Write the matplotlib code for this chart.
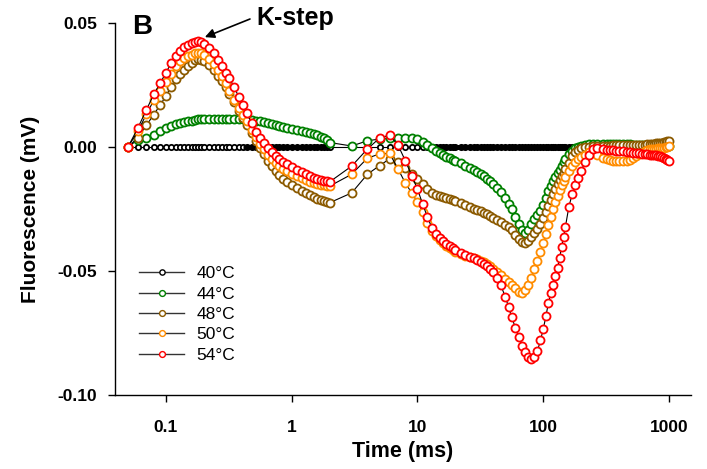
import matplotlib.pyplot as plt
from matplotlib.lines import Line2D
from matplotlib.ticker import NullLocator

plt.rcParams['font.family'] = ['Liberation Sans', 'DejaVu Sans']

# time axis (ms)
time_ms = [0.05, 0.06, 0.07, 0.08, 0.09, 0.10, 0.11, 0.12, 0.13, 0.14, 0.15, 0.16, 0.17, 0.18, 0.19, 0.20,
           0.22, 0.24, 0.26, 0.28, 0.30, 0.32, 0.35, 0.38, 0.41, 0.44, 0.48, 0.52, 0.56, 0.60, 0.65, 0.70,
           0.75, 0.80, 0.86, 0.92, 1.0, 1.1, 1.2, 1.3, 1.4, 1.5, 1.6, 1.7, 1.8, 1.9, 2.0,
           3, 4, 5, 6, 7, 8, 9, 10,
           11, 12, 13, 14, 15, 16, 17, 18, 19, 20, 22, 24, 26, 28, 30,
           32, 34, 36, 38, 40, 43, 46, 50, 53, 56, 60, 64, 68, 72, 76, 80, 85, 90, 95, 100,
           105, 110, 115, 120, 125, 130, 135, 140, 145, 150, 160, 170, 180, 190, 200, 215, 230, 250, 270, 300,
           320, 340, 360, 380, 400, 430, 460, 490, 520, 550, 580, 610, 640, 670, 700, 730, 760, 790, 820,
           850, 880, 910, 940, 970, 1000]

f40 = [0.0, 0.0, 0.0, 0.0, 0.0, 0.0, 0.0, 0.0, 0.0, 0.0, 0.0, 0.0, 0.0, 0.0, 0.0, 0.0,
       0.0, 0.0, 0.0, 0.0, 0.0, 0.0, 0.0, 0.0, 0.0, 0.0, 0.0, 0.0, 0.0, 0.0, 0.0, 0.0,
       0.0, 0.0, 0.0, 0.0, 0.0, 0.0, 0.0, 0.0, 0.0, 0.0, 0.0, 0.0, 0.0, 0.0, 0.0,
       0.0, 0.0, 0.0, 0.0, 0.0, 0.0, 0.0, 0.0,
       0.0, 0.0, 0.0, 0.0, 0.0, 0.0, 0.0, 0.0, 0.0, 0.0, 0.0, 0.0, 0.0, 0.0, 0.0,
       0.0, 0.0, 0.0, 0.0, 0.0, 0.0, 0.0, 0.0, 0.0, 0.0, 0.0, 0.0, 0.0, 0.0, 0.0, 0.0, 0.0, 0.0, 0.0, 0.0,
       0.0, 0.0, 0.0, 0.0, 0.0, 0.0, 0.0, 0.0, 0.0, 0.0, 0.0, 0.0, 0.0, 0.0, 0.0, 0.0, 0.0, 0.0, 0.0, 0.0,
       0.0, 0.0, 0.0, 0.0, 0.0, 0.0, 0.0, 0.0, 0.0, 0.0, 0.0, 0.0, 0.0, 0.0, 0.0, 0.0, 0.0, 0.0, 0.0,
       0.0, 0.0, 0.0, 0.0, 0.0, 0.0]

f44 = [0.0, 0.0030, 0.0036, 0.0050, 0.0064, 0.0076, 0.0085, 0.0092, 0.0097, 0.0100, 0.0103, 0.0106, 0.0109, 0.0111, 0.0112, 0.0113,
       0.0113, 0.0113, 0.0112, 0.0112, 0.0112, 0.0113, 0.0114, 0.0114, 0.0113, 0.0112, 0.0110, 0.0106, 0.0103, 0.0100, 0.0096, 0.0092,
       0.0088, 0.0085, 0.0081, 0.0078, 0.0074, 0.0070, 0.0066, 0.0061, 0.0056, 0.0052, 0.0047, 0.0042, 0.0036, 0.0028, 0.0018,
       0.0004, 0.0025, 0.0032, 0.0035, 0.0036, 0.0036, 0.0036, 0.0032,
       0.0020, 0.0006, -0.0005, -0.0015, -0.0024, -0.0032, -0.0039, -0.0045, -0.0051, -0.0057, -0.0066, -0.0075, -0.0084, -0.0093, -0.0102,
       -0.0110, -0.0119, -0.0128, -0.0138, -0.0148, -0.0164, -0.0182, -0.0207, -0.0229, -0.0252, -0.0281, -0.0311, -0.0336, -0.0347, -0.0333, -0.0312, -0.0292, -0.0274, -0.0258, -0.0232,
       -0.0204, -0.0178, -0.0157, -0.0139, -0.0122, -0.0106, -0.0091, -0.0076, -0.0061, -0.0047, -0.0028, -0.0015, -0.0006, 0.0, 0.0005, 0.0009, 0.0011, 0.0012, 0.0012, 0.0012,
       0.0012, 0.0012, 0.0012, 0.0012, 0.0011, 0.0011, 0.0011, 0.0011, 0.0010, 0.0010, 0.0010, 0.0010, 0.0009, 0.0009, 0.0009, 0.0008, 0.0008, 0.0008, 0.0007,
       0.0007, 0.0006, 0.0006, 0.0005, 0.0005, 0.0004]

f48 = [0.0, 0.0038, 0.0088, 0.0130, 0.0170, 0.0205, 0.0243, 0.0273, 0.0295, 0.0312, 0.0327, 0.0340, 0.0349, 0.0355, 0.0352, 0.0345,
       0.0330, 0.0310, 0.0288, 0.0265, 0.0240, 0.0215, 0.0180, 0.0146, 0.0116, 0.0088, 0.0055, 0.0025, -0.0003, -0.0028, -0.0055, -0.0078,
       -0.0097, -0.0113, -0.0128, -0.0140, -0.0152, -0.0165, -0.0176, -0.0186, -0.0195, -0.0202, -0.0208, -0.0213, -0.0218, -0.0222, -0.0225,
       -0.0185, -0.0110, -0.0075, -0.0048, -0.0062, -0.0085, -0.0108, -0.0130,
       -0.0150, -0.0170, -0.0184, -0.0192, -0.0197, -0.0200, -0.0204, -0.0209, -0.0214, -0.0219, -0.0227, -0.0235, -0.0242, -0.0249, -0.0255,
       -0.0260, -0.0266, -0.0272, -0.0278, -0.0285, -0.0294, -0.0302, -0.0314, -0.0324, -0.0336, -0.0353, -0.0370, -0.0384, -0.0388, -0.0379, -0.0364, -0.0347, -0.0330, -0.0310, -0.0287,
       -0.0262, -0.0237, -0.0212, -0.0190, -0.0170, -0.0151, -0.0134, -0.0118, -0.0103, -0.0090, -0.0064, -0.0038, -0.0022, -0.0012, -0.0006, -0.0002, 0.0, 0.0003, 0.0004, 0.0005,
       0.0005, 0.0005, 0.0006, 0.0006, 0.0006, 0.0007, 0.0007, 0.0008, 0.0008, 0.0009, 0.0009, 0.0010, 0.0010, 0.0011, 0.0012, 0.0013, 0.0014, 0.0015, 0.0016,
       0.0017, 0.0018, 0.0020, 0.0022, 0.0024, 0.0026]

f50 = [0.0, 0.0065, 0.0132, 0.0188, 0.0226, 0.0262, 0.0295, 0.0325, 0.0345, 0.0357, 0.0366, 0.0372, 0.0377, 0.0380, 0.0377, 0.0370,
       0.0354, 0.0335, 0.0311, 0.0285, 0.0256, 0.0227, 0.0190, 0.0158, 0.0130, 0.0104, 0.0070, 0.0040, 0.0012, -0.0010, -0.0033, -0.0050,
       -0.0065, -0.0077, -0.0088, -0.0097, -0.0107, -0.0118, -0.0127, -0.0134, -0.0140, -0.0145, -0.0149, -0.0152, -0.0155, -0.0157, -0.0158,
       -0.0110, -0.0045, -0.0028, -0.0026, -0.0088, -0.0145, -0.0185, -0.0222,
       -0.0262, -0.0305, -0.0338, -0.0360, -0.0376, -0.0389, -0.0399, -0.0408, -0.0416, -0.0423, -0.0432, -0.0439, -0.0444, -0.0448, -0.0452,
       -0.0458, -0.0465, -0.0472, -0.0480, -0.0490, -0.0503, -0.0516, -0.0532, -0.0544, -0.0555, -0.0570, -0.0583, -0.0588, -0.0578, -0.0558, -0.0528, -0.0493, -0.0458, -0.0422, -0.0386,
       -0.0350, -0.0316, -0.0282, -0.0250, -0.0222, -0.0196, -0.0173, -0.0153, -0.0136, -0.0121, -0.0095, -0.0076, -0.0061, -0.0050, -0.0042, -0.0032, -0.0022, -0.0022, -0.0032, -0.0045,
       -0.0050, -0.0053, -0.0055, -0.0056, -0.0057, -0.0057, -0.0055, -0.0052, -0.0046, -0.0038, -0.0030, -0.0023, -0.0017, -0.0013, -0.0010, -0.0009, -0.0008, -0.0007, -0.0006,
       -0.0006, -0.0005, -0.0004, -0.0002, 0.0, 0.0003]

f54 = [0.0, 0.0078, 0.0150, 0.0212, 0.0257, 0.0300, 0.0338, 0.0366, 0.0388, 0.0403, 0.0413, 0.0420, 0.0425, 0.0428, 0.0423, 0.0415,
       0.0398, 0.0378, 0.0352, 0.0326, 0.0300, 0.0277, 0.0240, 0.0202, 0.0168, 0.0136, 0.0096, 0.0062, 0.0036, 0.0015, -0.0006, -0.0022,
       -0.0036, -0.0048, -0.0059, -0.0068, -0.0079, -0.0091, -0.0101, -0.0110, -0.0118, -0.0124, -0.0129, -0.0133, -0.0136, -0.0139, -0.0141,
       -0.0077, -0.0008, 0.0036, 0.0048, 0.0008, -0.0055, -0.0115, -0.0170,
       -0.0230, -0.0283, -0.0325, -0.0352, -0.0368, -0.0380, -0.0390, -0.0400, -0.0409, -0.0416, -0.0427, -0.0435, -0.0442, -0.0448, -0.0455,
       -0.0462, -0.0470, -0.0479, -0.0490, -0.0503, -0.0528, -0.0558, -0.0605, -0.0645, -0.0685, -0.0728, -0.0768, -0.0802, -0.0828, -0.0846, -0.0855, -0.0848, -0.0822, -0.0780, -0.0735,
       -0.0682, -0.0628, -0.0590, -0.0556, -0.0522, -0.0488, -0.0446, -0.0402, -0.0362, -0.0322, -0.0240, -0.0190, -0.0152, -0.0124, -0.0098, -0.0060, -0.0032, -0.0008, -0.0006, -0.0010,
       -0.0012, -0.0013, -0.0014, -0.0015, -0.0016, -0.0018, -0.0020, -0.0022, -0.0024, -0.0025, -0.0026, -0.0027, -0.0028, -0.0030, -0.0031, -0.0032, -0.0033, -0.0034, -0.0036,
       -0.0038, -0.0040, -0.0043, -0.0047, -0.0051, -0.0056]

labels = ['40°C', '44°C', '48°C', '50°C', '54°C']
colors = ['black', '#008000', '#8B5A00', '#FF8C00', '#FF0000']
series = [f40, f44, f48, f50, f54]

fig = plt.figure(figsize=(7.07, 4.69), dpi=100)
ax = fig.add_axes([0.1627, 0.1578, 0.8147, 0.7932])

for i, (y, c) in enumerate(zip(series, colors)):
    size = 3.8 if i == 0 else 5.8
    ax.plot(time_ms, y, '-', color='black', lw=0.8, marker='o', ms=size,
            mfc='white', mec=c, mew=1.3, zorder=2 + i)

# the 40 °C trace is sampled so densely that it reads as a solid bar
for lo, hi in [(0.4, 2.0), (12, 1000)]:
    seg_t = [t for t in time_ms if lo <= t <= hi]
    seg_y = [v for t, v in zip(time_ms, f40) if lo <= t <= hi]
    ax.plot(seg_t, seg_y, color='black', lw=3.6, solid_capstyle='butt', zorder=2.5)

ax.set_xscale('log')
ax.set_xlim(0.0394, 1496)
ax.set_ylim(-0.10, 0.05)
ax.set_xticks([0.1, 1, 10, 100, 1000])
ax.set_xticklabels(['0.1', '1', '10', '100', '1000'], fontweight='bold')
ax.xaxis.set_minor_locator(NullLocator())
ax.set_yticks([-0.10, -0.05, 0.00, 0.05])
ax.set_yticklabels(['-0.10', '-0.05', '0.00', '0.05'], fontweight='bold')
ax.tick_params(axis='x', direction='out', length=5, width=1, labelsize=12.5, pad=13)
ax.tick_params(axis='y', direction='out', length=5, width=1, labelsize=12.5, pad=8)
for s in ['top', 'right']:
    ax.spines[s].set_visible(False)
for s in ['left', 'bottom']:
    ax.spines[s].set_linewidth(1)

ax.set_xlabel('Time (ms)', fontsize=15.5, fontweight='bold')
ax.xaxis.set_label_coords(0.5, -0.152)
ax.xaxis.label.set_va('center')
ax.set_ylabel('Fluorescence (mV)', fontsize=15, fontweight='bold')
ax.yaxis.set_label_coords(-0.147, 0.5)
ax.yaxis.label.set_va('center')

handles = [Line2D([], [], color='#333333', lw=1, marker='o', ms=4.2 if i else 3.8,
                  mfc='white', mec=c, mew=1.0) for i, c in enumerate(colors)]
ax.legend(handles, labels, loc='upper left', bbox_to_anchor=(0.03, 0.365),
          frameon=False, fontsize=12.5, handlelength=2.6, handletextpad=0.7,
          labelspacing=0.3, borderaxespad=0)

ax.text(0.047, 0.989, 'B', transform=ax.transAxes, ha='center', va='center',
        fontsize=20, fontweight='bold')
ax.text(1.06, 0.052, 'K-step', ha='center', va='center', fontsize=18, fontweight='bold')
ax.annotate('', xy=(0.204, 0.0443), xytext=(0.466, 0.0516), annotation_clip=False,
            arrowprops=dict(arrowstyle='-|>', color='black', lw=1.2, mutation_scale=14,
                            shrinkA=0, shrinkB=0))

plt.savefig('out.png', dpi=100)
